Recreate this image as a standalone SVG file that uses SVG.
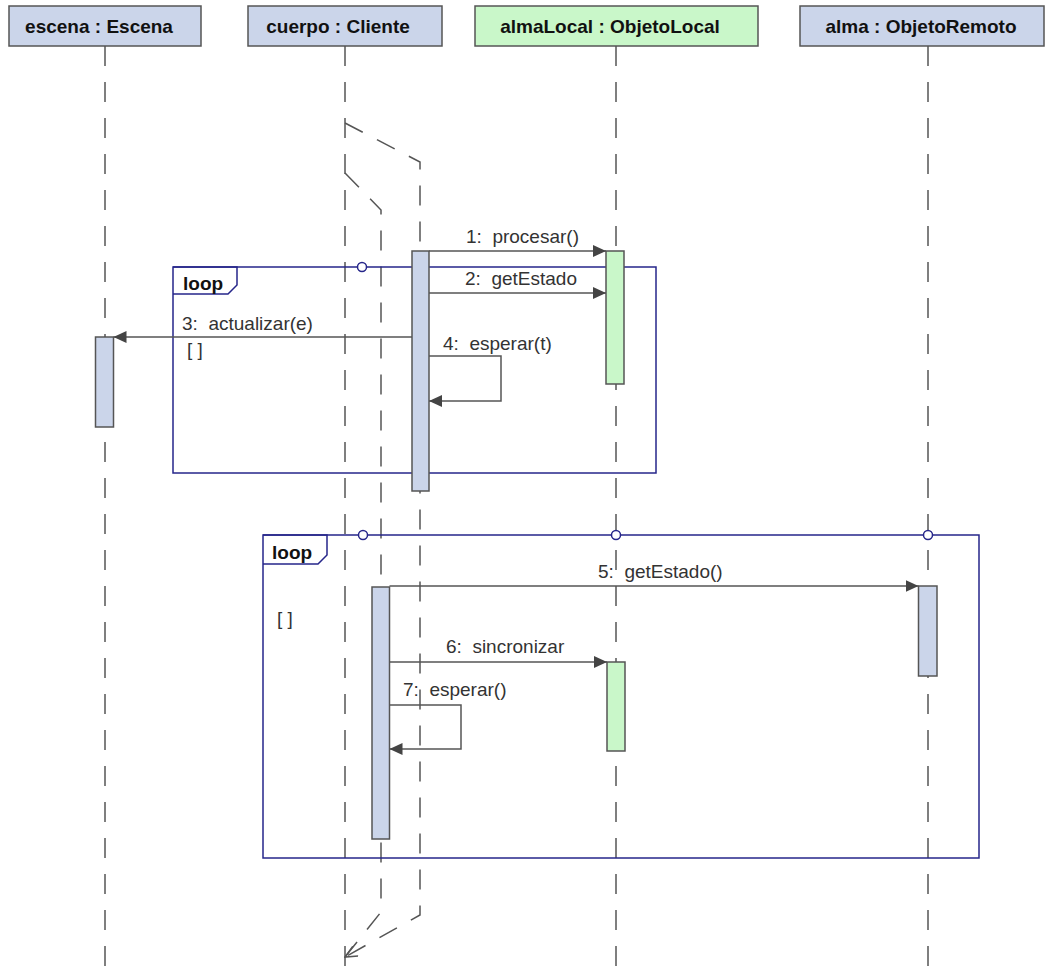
<svg xmlns="http://www.w3.org/2000/svg" width="1045" height="972" viewBox="0 0 1045 972">
<style>
.hdr{fill:#cbd5ea;stroke:#555;stroke-width:1.5}
.hdrg{fill:#c9f7c9;stroke:#555;stroke-width:1.5}
.ht{font-family:"Liberation Sans",Arial,sans-serif;font-weight:bold;font-size:19px;fill:#111;text-anchor:middle}
.life{fill:none;stroke:#555;stroke-width:1.5;stroke-dasharray:20 16}
.bar{fill:#cbd5ea;stroke:#555;stroke-width:1.5}
.barg{fill:#c9f7c9;stroke:#555;stroke-width:1.5}
.msg{fill:none;stroke:#555;stroke-width:1.5}
.mt{font-family:"Liberation Sans",Arial,sans-serif;font-size:19px;fill:#333}
.frame{fill:none;stroke:#26268a;stroke-width:1.5}
.lt{font-family:"Liberation Sans",Arial,sans-serif;font-weight:bold;font-size:19px;fill:#111}
.gate{fill:#fff;stroke:#26268a;stroke-width:1.5}
</style>
<defs>
<marker id="ah" viewBox="0 0 13 12" refX="13" refY="6" markerWidth="13" markerHeight="12" markerUnits="userSpaceOnUse" orient="auto">
<path d="M0,0 L13,6 L0,12 Z" fill="#444"/>
</marker>
<marker id="oa" viewBox="0 0 14 12" refX="13" refY="6" markerWidth="14" markerHeight="12" markerUnits="userSpaceOnUse" orient="auto">
<path d="M1,0.5 L13,6 L1,11.5" fill="none" stroke="#555" stroke-width="1.5"/>
</marker>
</defs>

<g id="lifelines">
<line class="life" x1="105" y1="46" x2="105" y2="972"/>
<line class="life" x1="345" y1="46" x2="345" y2="972"/>
<line class="life" x1="616" y1="46" x2="616" y2="972"/>
<line class="life" x1="928" y1="46" x2="928" y2="972"/>
<path class="life" d="M345,123 L420,162 L420,915 L345,957" marker-end="url(#oa)"/>
<path class="life" d="M345,173 L381,210 L381,912 L345,957"/>
</g>

<g id="escena">
<rect class="hdr" x="9" y="6" width="192" height="40"/>
<text class="ht" x="99" y="33">escena : Escena</text>
</g>
<g id="cuerpo">
<rect class="hdr" x="248" y="6" width="194" height="40"/>
<text class="ht" x="338" y="33">cuerpo : Cliente</text>
</g>
<g id="almaLocal">
<rect class="hdrg" x="475" y="6" width="283" height="40"/>
<text class="ht" x="610" y="33">almaLocal : ObjetoLocal</text>
</g>
<g id="alma">
<rect class="hdr" x="800" y="6" width="244" height="40"/>
<text class="ht" x="921" y="33">alma : ObjetoRemoto</text>
</g>

<g id="loop1">
<rect class="frame" x="173" y="267" width="483" height="206"/>
<path class="frame" d="M173,267 H237 V285 L228,294 H173"/>
<text class="lt" x="183" y="290">loop</text>
<text class="mt" x="187" y="356">[ ]</text>
<circle class="gate" cx="362" cy="267" r="4.5"/>
</g>
<g id="loop2">
<rect class="frame" x="263" y="535" width="716" height="323"/>
<path class="frame" d="M263,535 H327 V555 L318,564 H263"/>
<text class="lt" x="272" y="559">loop</text>
<text class="mt" x="277" y="625">[ ]</text>
<circle class="gate" cx="363" cy="535" r="4.5"/>
<circle class="gate" cx="616" cy="535" r="4.5"/>
<circle class="gate" cx="928" cy="535" r="4.5"/>
</g>

<g id="activations">
<rect class="bar" x="412" y="251" width="17" height="240"/>
<rect class="barg" x="606" y="251" width="18" height="133"/>
<rect class="bar" x="95.5" y="337" width="18" height="90"/>
<rect class="bar" x="372" y="587" width="17.5" height="252"/>
<rect class="barg" x="607" y="662" width="18" height="89"/>
<rect class="bar" x="918.5" y="586" width="18.5" height="90"/>
</g>

<g id="connectors">
<line class="msg" x1="429" y1="251" x2="606" y2="251" marker-end="url(#ah)"/>
<text class="mt" x="466" y="243" xml:space="preserve">1:  procesar()</text>
<line class="msg" x1="429" y1="293" x2="606" y2="293" marker-end="url(#ah)"/>
<text class="mt" x="465" y="285" xml:space="preserve">2:  getEstado</text>
<line class="msg" x1="412" y1="337" x2="113.5" y2="337" marker-end="url(#ah)"/>
<text class="mt" x="182" y="330" xml:space="preserve">3:  actualizar(e)</text>
<path class="msg" d="M429,356 H501 V401 H429" marker-end="url(#ah)"/>
<text class="mt" x="443" y="350" xml:space="preserve">4:  esperar(t)</text>
<line class="msg" x1="389.5" y1="586" x2="918.5" y2="586" marker-end="url(#ah)"/>
<text class="mt" x="598" y="578" xml:space="preserve">5:  getEstado()</text>
<line class="msg" x1="389.5" y1="662" x2="607" y2="662" marker-end="url(#ah)"/>
<text class="mt" x="446" y="653" xml:space="preserve">6:  sincronizar</text>
<path class="msg" d="M389.5,705 H461 V749 H389.5" marker-end="url(#ah)"/>
<text class="mt" x="403" y="696" xml:space="preserve">7:  esperar()</text>
</g>
</svg>
